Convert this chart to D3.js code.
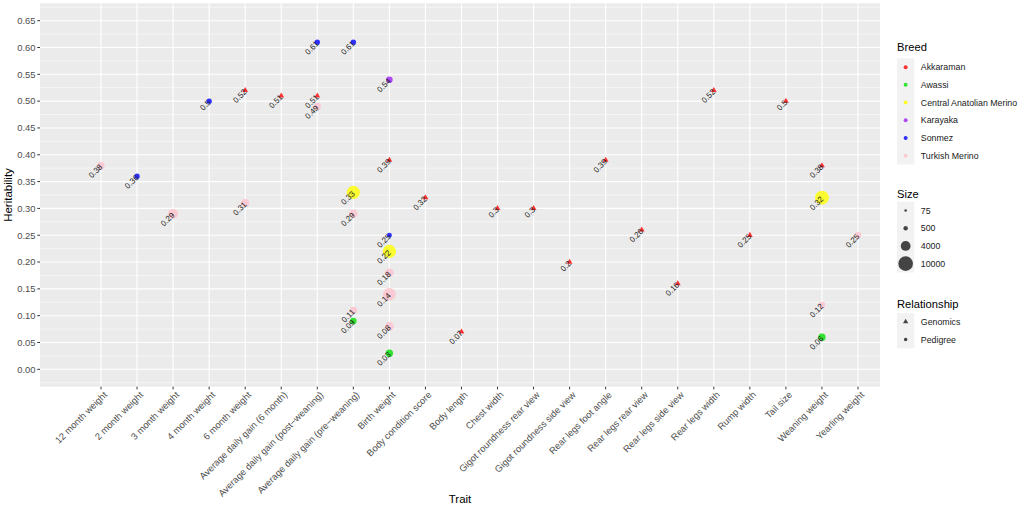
<!DOCTYPE html>
<html>
<head>
<meta charset="utf-8">
<script src="https://cdn.jsdelivr.net/npm/d3@7"></script>
<style>
  body { margin: 0; background: #fff; }
  svg { font-family: "Liberation Sans", Arial, sans-serif; }
</style>
</head>
<body>
<svg id="chart" width="1024" height="510"></svg>
<script>
// Categories and legend values
const traits = [
    '12 month weight', '2 month weight', '3 month weight', '4 month weight', '6 month weight',
    'Average daily gain (6 month)', 'Average daily gain (post\u2212weaning)', 'Average daily gain (pre\u2212weaning)',
    'Birth weight', 'Body condition score', 'Body length', 'Chest width',
    'Gigot roundness rear view', 'Gigot roundness side view', 'Rear legs foot angle',
    'Rear legs rear view', 'Rear legs side view', 'Rear legs width', 'Rump width',
    'Tail size', 'Weaning weight', 'Yearling weight'
];
const breeds = ['Akkaraman', 'Awassi', 'Central Anatolian Merino', 'Karayaka', 'Sonmez', 'Turkish Merino'];
const breedColors = ['#ff0000', '#00e000', '#ffff00', '#a020f0', '#0000ff', '#ffc0cb'];
const relationships = ['Genomics', 'Pedigree'];
const sizeBreaks = [75, 500, 4000, 10000];
const yTicks = [0, 0.05, 0.1, 0.15, 0.2, 0.25, 0.3, 0.35, 0.4, 0.45, 0.5, 0.55, 0.6, 0.65];

// One entry per estimate
const pointTrait = [
    '12 month weight', '2 month weight', '3 month weight', '4 month weight',
    '6 month weight', '6 month weight', 'Average daily gain (6 month)',
    'Average daily gain (post\u2212weaning)', 'Average daily gain (post\u2212weaning)', 'Average daily gain (post\u2212weaning)',
    'Average daily gain (pre\u2212weaning)', 'Average daily gain (pre\u2212weaning)', 'Average daily gain (pre\u2212weaning)',
    'Average daily gain (pre\u2212weaning)', 'Average daily gain (pre\u2212weaning)',
    'Birth weight', 'Birth weight', 'Birth weight', 'Birth weight', 'Birth weight', 'Birth weight', 'Birth weight', 'Birth weight',
    'Body condition score', 'Body length', 'Chest width', 'Gigot roundness rear view', 'Gigot roundness side view',
    'Rear legs foot angle', 'Rear legs rear view', 'Rear legs side view', 'Rear legs width', 'Rump width', 'Tail size',
    'Weaning weight', 'Weaning weight', 'Weaning weight', 'Weaning weight', 'Yearling weight'
];
const pointValue = [
    0.38, 0.36, 0.29, 0.5,
    0.52, 0.31, 0.51,
    0.61, 0.51, 0.49,
    0.61, 0.33, 0.29, 0.11, 0.09,
    0.54, 0.39, 0.25, 0.22, 0.18, 0.14, 0.08, 0.03,
    0.32, 0.07, 0.3, 0.3, 0.2,
    0.39, 0.26, 0.16, 0.52, 0.25, 0.5,
    0.38, 0.32, 0.12, 0.06, 0.25
];
const pointBreed = [
    'Turkish Merino', 'Sonmez', 'Turkish Merino', 'Sonmez',
    'Akkaraman', 'Turkish Merino', 'Akkaraman',
    'Sonmez', 'Akkaraman', 'Turkish Merino',
    'Sonmez', 'Central Anatolian Merino', 'Turkish Merino', 'Turkish Merino', 'Awassi',
    'Karayaka', 'Akkaraman', 'Sonmez', 'Central Anatolian Merino', 'Turkish Merino', 'Turkish Merino', 'Turkish Merino', 'Awassi',
    'Akkaraman', 'Akkaraman', 'Akkaraman', 'Akkaraman', 'Akkaraman',
    'Akkaraman', 'Akkaraman', 'Akkaraman', 'Akkaraman', 'Akkaraman', 'Akkaraman',
    'Akkaraman', 'Central Anatolian Merino', 'Turkish Merino', 'Awassi', 'Turkish Merino'
];
const pointRelationship = pointBreed.map(b => b === 'Akkaraman' ? 'Genomics' : 'Pedigree');
const pointSize = [
    2000, 900, 4000, 900,
    200, 2500, 200,
    900, 200, 2000,
    900, 8000, 3000, 2000, 1500,
    1500, 200, 700, 8000, 3000, 7200, 3000, 2000,
    200, 200, 200, 200, 200,
    200, 200, 200, 200, 200, 200,
    200, 9000, 1500, 2000, 1500
];

const svg = d3.select('#chart');
const panel = { left: 40, right: 880, top: 3.3, bottom: 386.7 };

const x = d3.scalePoint().domain(traits).range([101, 858]);
const y = d3.scaleLinear().domain([-0.0324, 0.6824]).range([panel.bottom, panel.top]);
const radius = d3.scalePow().exponent(0.5).domain([75, 10000]).range([1.3, 7.3]);
const color = d3.scaleOrdinal().domain(breeds).range(breedColors);

// Panel background and grid
svg.append('rect')
    .attr('x', panel.left).attr('y', panel.top)
    .attr('width', panel.right - panel.left).attr('height', panel.bottom - panel.top)
    .attr('fill', '#ebebeb');

const minorTicks = d3.range(-0.025, 0.68, 0.05);
svg.append('g').selectAll('line')
    .data(minorTicks)
    .enter().append('line')
    .attr('x1', panel.left).attr('x2', panel.right)
    .attr('y1', d => y(d)).attr('y2', d => y(d))
    .attr('stroke', '#fff').attr('stroke-width', 0.55);

svg.append('g').selectAll('line')
    .data(yTicks)
    .enter().append('line')
    .attr('x1', panel.left).attr('x2', panel.right)
    .attr('y1', d => y(d)).attr('y2', d => y(d))
    .attr('stroke', '#fff').attr('stroke-width', 1.1);

svg.append('g').selectAll('line')
    .data(traits)
    .enter().append('line')
    .attr('x1', d => x(d)).attr('x2', d => x(d))
    .attr('y1', panel.top).attr('y2', panel.bottom)
    .attr('stroke', '#fff').attr('stroke-width', 1.1);

// Axes
const yAxis = svg.append('g');
yAxis.selectAll('line')
    .data(yTicks)
    .enter().append('line')
    .attr('x1', panel.left - 2.7).attr('x2', panel.left)
    .attr('y1', d => y(d)).attr('y2', d => y(d))
    .attr('stroke', '#333');
yAxis.selectAll('text')
    .data(yTicks)
    .enter().append('text')
    .attr('x', panel.left - 4.5).attr('y', d => y(d))
    .attr('dy', '0.35em')
    .attr('text-anchor', 'end')
    .attr('font-size', 9.4)
    .attr('fill', '#4d4d4d')
    .text(d3.format('.2f'));

const xAxis = svg.append('g');
xAxis.selectAll('line')
    .data(traits)
    .enter().append('line')
    .attr('x1', d => x(d)).attr('x2', d => x(d))
    .attr('y1', panel.bottom).attr('y2', panel.bottom + 2.7)
    .attr('stroke', '#333');
xAxis.selectAll('text')
    .data(traits)
    .enter().append('text')
    .attr('transform', d => `translate(${x(d) + 2},${panel.bottom + 4}) rotate(-45)`)
    .attr('dy', '0.71em')
    .attr('text-anchor', 'end')
    .attr('font-size', 9.4)
    .attr('fill', '#4d4d4d')
    .text(d => d);

svg.append('text')
    .attr('x', (panel.left + panel.right) / 2).attr('y', 503)
    .attr('text-anchor', 'middle')
    .attr('font-size', 11.5)
    .text('Trait');
svg.append('text')
    .attr('transform', `translate(12,${(panel.top + panel.bottom) / 2}) rotate(-90)`)
    .attr('text-anchor', 'middle')
    .attr('font-size', 11.5)
    .text('Heritability');

// Points
const points = pointValue.map((v, i) => ({
    trait: pointTrait[i], value: v, breed: pointBreed[i],
    relationship: pointRelationship[i], size: pointSize[i]
}));

const symbolFor = d => {
    const r = radius(d.size);
    return d.relationship === 'Genomics'
        ? d3.symbol(d3.symbolTriangle).size(Math.PI * r * r * 1.7)()
        : d3.symbol(d3.symbolCircle).size(Math.PI * r * r)();
};

svg.append('g').selectAll('path')
    .data(points)
    .enter().append('path')
    .attr('transform', d => `translate(${x(d.trait)},${y(d.value)})`)
    .attr('d', symbolFor)
    .attr('fill', d => color(d.breed))
    .attr('fill-opacity', 0.8);

svg.append('g').selectAll('text')
    .data(points)
    .enter().append('text')
    .attr('transform', d => `translate(${x(d.trait)},${y(d.value)}) rotate(-45)`)
    .attr('dy', '0.35em')
    .attr('text-anchor', 'end')
    .attr('font-size', 8)
    .attr('fill', '#1a1a1a')
    .text(d => String(d.value));

// Legends
const legendX = 897;
const keyW = 17.3, keyH = 17.7;

function legendBlock(title, titleY, top, items, drawKey) {
    const g = svg.append('g');
    g.append('text')
        .attr('x', legendX).attr('y', titleY)
        .attr('font-size', 11.2)
        .text(title);
    g.append('rect')
        .attr('x', legendX).attr('y', top)
        .attr('width', keyW).attr('height', keyH * items.length)
        .attr('fill', '#f2f2f2');
    items.forEach((item, i) => {
        const cy = top + keyH * (i + 0.5);
        drawKey(g, item, legendX + keyW / 2, cy);
        g.append('text')
            .attr('x', legendX + keyW + 6.5).attr('y', cy)
            .attr('dy', '0.35em')
            .attr('font-size', 8.8)
            .attr('fill', '#1a1a1a')
            .text(item);
    });
}

legendBlock('Breed', 51, 58.3, breeds, (g, b, cx, cy) => {
    g.append('circle').attr('cx', cx).attr('cy', cy).attr('r', 2)
        .attr('fill', color(b)).attr('fill-opacity', 0.8);
});

legendBlock('Size', 197.5, 201.7, sizeBreaks, (g, s, cx, cy) => {
    g.append('circle').attr('cx', cx).attr('cy', cy).attr('r', radius(s))
        .attr('fill', '#000').attr('fill-opacity', 0.72);
});

legendBlock('Relationship', 307.5, 313, relationships, (g, rel, cx, cy) => {
    const shape = rel === 'Genomics' ? d3.symbolTriangle : d3.symbolCircle;
    g.append('path')
        .attr('transform', `translate(${cx},${cy})`)
        .attr('d', d3.symbol(shape).size(rel === 'Genomics' ? 12 : 10)())
        .attr('fill', '#000').attr('fill-opacity', 0.72);
});
</script>
</body>
</html>
